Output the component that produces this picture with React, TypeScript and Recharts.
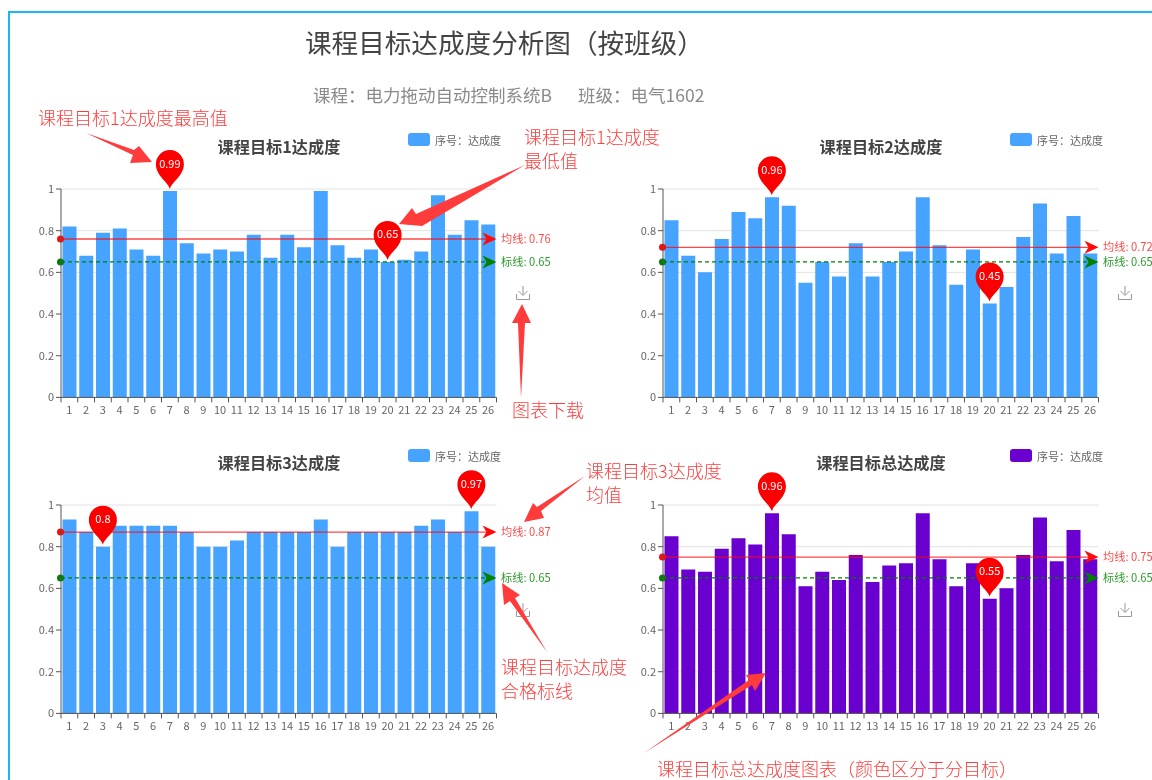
import React from 'react';
import { BarChart, Bar, XAxis, YAxis, CartesianGrid, Legend, ReferenceLine, ReferenceDot } from 'recharts';

const students = ['1', '2', '3', '4', '5', '6', '7', '8', '9', '10', '11', '12', '13', '14', '15', '16', '17', '18', '19', '20', '21', '22', '23', '24', '25', '26'];
const yTicks = [0, 0.2, 0.4, 0.6, 0.8, 1];
const goal1Values = [0.82, 0.68, 0.79, 0.81, 0.71, 0.68, 0.99, 0.74, 0.69, 0.71, 0.7, 0.78, 0.67, 0.78, 0.72, 0.99, 0.73, 0.67, 0.71, 0.65, 0.66, 0.7, 0.97, 0.78, 0.85, 0.83];
const goal2Values = [0.85, 0.68, 0.6, 0.76, 0.89, 0.86, 0.96, 0.92, 0.55, 0.65, 0.58, 0.74, 0.58, 0.65, 0.7, 0.96, 0.73, 0.54, 0.71, 0.45, 0.53, 0.77, 0.93, 0.69, 0.87, 0.69];
const goal3Values = [0.93, 0.87, 0.8, 0.9, 0.9, 0.9, 0.9, 0.87, 0.8, 0.8, 0.83, 0.87, 0.87, 0.87, 0.87, 0.93, 0.8, 0.87, 0.87, 0.87, 0.87, 0.9, 0.93, 0.87, 0.97, 0.8];
const totalValues = [0.85, 0.69, 0.68, 0.79, 0.84, 0.81, 0.96, 0.86, 0.61, 0.68, 0.64, 0.76, 0.63, 0.71, 0.72, 0.96, 0.74, 0.61, 0.72, 0.55, 0.6, 0.76, 0.94, 0.73, 0.88, 0.74];
const seriesName = '序号：达成度';
const targetLine = 0.65;

const BLUE = '#46a3ff';
const PURPLE = '#6a00cf';
const CJK = '"Noto Sans CJK SC", sans-serif';

const toRows = (values: number[]) => students.map((name, i) => ({ name, score: values[i] }));

// echarts style pin, tip sits just above the value
const Pin = ({ cx, cy, value }: any) => (
  <g>
    <path
      d={`M ${cx} ${cy - 2} C ${cx - 2.5} ${cy - 10}, ${cx - 14} ${cy - 15}, ${cx - 14} ${cy - 27} A 14 14 0 1 1 ${cx + 14} ${cy - 27} C ${cx + 14} ${cy - 15}, ${cx + 2.5} ${cy - 10}, ${cx} ${cy - 2} Z`}
      fill="#fb0000"
    />
    <text x={cx} y={cy - 23.5} textAnchor="middle" fill="#fff" fontSize={11} fontFamily={CJK}>{value}</text>
  </g>
);

const MarkLine = ({ x1, x2, y, color, textColor, dashed, label }: any) => (
  <g>
    <line x1={x1} x2={x2 - 6} y1={y} y2={y} stroke={color} strokeOpacity={dashed ? 1 : 0.75} strokeWidth={dashed ? 1.2 : 1.4} strokeDasharray={dashed ? '4 3' : undefined} />
    <circle cx={x1 - 0.5} cy={y} r={3.5} fill={color} />
    <path d={`M ${x2} ${y} L ${x2 - 14} ${y - 6.5} L ${x2 - 10} ${y} L ${x2 - 14} ${y + 6.5} Z`} fill={color} />
    <text x={x2 + 4.5} y={y + 4} fontSize={11.2} fill={textColor} fontFamily={CJK}>{label}</text>
  </g>
);

const lineShape = (color: string, textColor: string, dashed: boolean, label: string) => (props: any) => {
  const seg = props.segment || [{ x: props.x1, y: props.y1 }, { x: props.x2, y: props.y2 }];
  return <MarkLine x1={seg[0].x} x2={seg[1].x} y={seg[0].y} color={color} textColor={textColor} dashed={dashed} label={label} />;
};

// ticks fall on the band edges, the labels stay in the middle
const BandTick = ({ x, y, payload, index }: any) => {
  const half = payload.offset || 8.35;
  return (
    <g>
      {index === 0 && <line x1={x - half} x2={x - half} y1={y - 8} y2={y - 3} stroke="#555" />}
      <line x1={x + half} x2={x + half} y1={y - 8} y2={y - 3} stroke="#555" />
      <text x={x} y={y + 8.5} textAnchor="middle" fontSize={11} fill="#666" fontFamily={CJK}>{payload.value}</text>
    </g>
  );
};

const LegendBox = ({ fill }: { fill: string }) => (
  <div style={{ display: 'flex', alignItems: 'center', fontFamily: CJK, fontSize: 11, color: '#666' }}>
    <span style={{ width: 22, height: 13, borderRadius: 3, background: fill, marginRight: 5, flexShrink: 0 }} />
    <span style={{ whiteSpace: 'nowrap' }}>{seriesName}</span>
  </div>
);

const SaveIcon = ({ left, top }: { left: number; top: number }) => (
  <svg width={16} height={16} style={{ position: 'absolute', left, top }}>
    <path d="M8 1 V10 M3.5 6 L8 10.5 L12.5 6 M1.5 9 V14.5 H14.5 V9" fill="none" stroke="#999" strokeWidth={1} />
  </svg>
);

interface ChartProps {
  left: number;
  top: number;
  title: string;
  values: number[];
  mean: number;
  high: number;
  low: number;
  fill: string;
}

const GoalChart: React.FC<ChartProps> = ({ left, top, title, values, mean, high, low, fill }) => {
  const rows = toRows(values);
  return (
    <div style={{ position: 'absolute', left, top, width: 560, height: 300 }}>
      <div style={{ position: 'absolute', left: 62, width: 434, top: 5, textAlign: 'center', fontFamily: CJK, fontWeight: 700, fontSize: 16.2, color: '#444', lineHeight: '22px' }}>{title}</div>
      <BarChart width={560} height={300} data={rows} margin={{ top: 59, right: 63.5, bottom: 2.6, left: 21 }} barCategoryGap="9%">
        <CartesianGrid vertical={false} stroke="#e2e2e2" />
        <XAxis dataKey="name" interval={0} height={30} tickLine={false} tick={<BandTick />} axisLine={{ stroke: '#555' }} />
        <YAxis width={40} domain={[0, 1]} ticks={yTicks} tickSize={5} tick={{ fontSize: 11, fill: '#666', fontFamily: CJK }} axisLine={{ stroke: '#555' }} tickLine={{ stroke: '#555' }} />
        <Legend
          verticalAlign="middle"
          layout="horizontal"
          wrapperStyle={{ position: 'absolute', left: 408, top: 1.5, width: 110 }}
          content={() => <LegendBox fill={fill} />}
        />
        <Bar dataKey="score" name={seriesName} fill={fill} isAnimationActive={false} />
        <ReferenceLine y={mean} ifOverflow="visible" shape={lineShape('#ff0a0a', '#ff4a4a', false, `均线: ${mean}`)} />
        <ReferenceLine y={targetLine} ifOverflow="visible" shape={lineShape('#008000', '#2e9a2e', true, `标线: ${targetLine}`)} />
        <ReferenceDot x={students[high]} y={values[high]} ifOverflow="visible" shape={(p: any) => <Pin {...p} value={values[high]} />} />
        <ReferenceDot x={students[low]} y={values[low]} ifOverflow="visible" shape={(p: any) => <Pin {...p} value={values[low]} />} />
      </BarChart>
    </div>
  );
};

const noteStyle: React.CSSProperties = { position: 'absolute', color: '#ff3c3c', fontFamily: CJK, fontSize: 18, lineHeight: '22px', whiteSpace: 'nowrap', fontWeight: 300 };

const Note = ({ x, y, children }: { x: number; y: number; children: React.ReactNode }) => (
  <div style={{ ...noteStyle, left: x, top: y - 11 }}>{children}</div>
);

// red callouts someone drew over the screenshot
const callouts = [
  '86,133 134,150 139,146 152,162 130,163 133,155',
  '525,165 422,226 399,224 412,208 416,214',
  '521,398 518,323 512,323 522,304 531,323 525,323',
  '585,476 541,511 544,518 524,522 533,503 537,507',
  '547,652 515,598 520,595 502,583 504,605 510,601',
  '644,753 752,685 755,691 766,673 746,675 749,680',
];

export default function App() {
  return (
    <div style={{ position: 'absolute', left: 0, top: 0, width: 1152, height: 780, overflow: 'hidden', background: '#fff', filter: 'blur(0.35px)' }}>
      <div style={{ position: 'absolute', left: 8, top: 11, width: 1200, height: 800, borderLeft: '2px solid #1cb4f2', borderTop: '2px solid #1cb4f2' }} />
      <div style={{ position: 'absolute', left: 305, top: 23, fontFamily: CJK, fontSize: 26.6, lineHeight: '38px', color: '#444', whiteSpace: 'nowrap' }}>课程目标达成度分析图（按班级）</div>
      <div style={{ position: 'absolute', left: 313, top: 83, fontFamily: CJK, fontSize: 17.5, lineHeight: '24px', color: '#8a8a8a', whiteSpace: 'nowrap' }}>
        课程：电力拖动自动控制系统B<span style={{ marginLeft: 26 }}>班级：电气1602</span>
      </div>

      <GoalChart left={0} top={130} title="课程目标1达成度" values={goal1Values} mean={0.76} high={6} low={19} fill={BLUE} />
      <GoalChart left={602} top={130} title="课程目标2达成度" values={goal2Values} mean={0.72} high={6} low={19} fill={BLUE} />
      <GoalChart left={0} top={446} title="课程目标3达成度" values={goal3Values} mean={0.87} high={24} low={2} fill={BLUE} />
      <GoalChart left={602} top={446} title="课程目标总达成度" values={totalValues} mean={0.75} high={6} low={19} fill={PURPLE} />

      <SaveIcon left={515} top={285} />
      <SaveIcon left={1117} top={285} />
      <SaveIcon left={515} top={602} />
      <SaveIcon left={1117} top={602} />

      <svg width={1152} height={780} style={{ position: 'absolute', left: 0, top: 0, pointerEvents: 'none' }}>
        {callouts.map((points, i) => <polygon key={i} points={points} fill="#ff3b3b" />)}
      </svg>

      <Note x={38} y={117}>课程目标1达成度最高值</Note>
      <Note x={524} y={136}>课程目标1达成度</Note>
      <Note x={524} y={160}>最低值</Note>
      <Note x={512} y={409}>图表下载</Note>
      <Note x={586} y={470}>课程目标3达成度</Note>
      <Note x={586} y={494}>均值</Note>
      <Note x={501} y={666}>课程目标达成度</Note>
      <Note x={501} y={690}>合格标线</Note>
      <Note x={657} y={768}>课程目标总达成度图表（颜色区分于分目标）</Note>
    </div>
  );
}
